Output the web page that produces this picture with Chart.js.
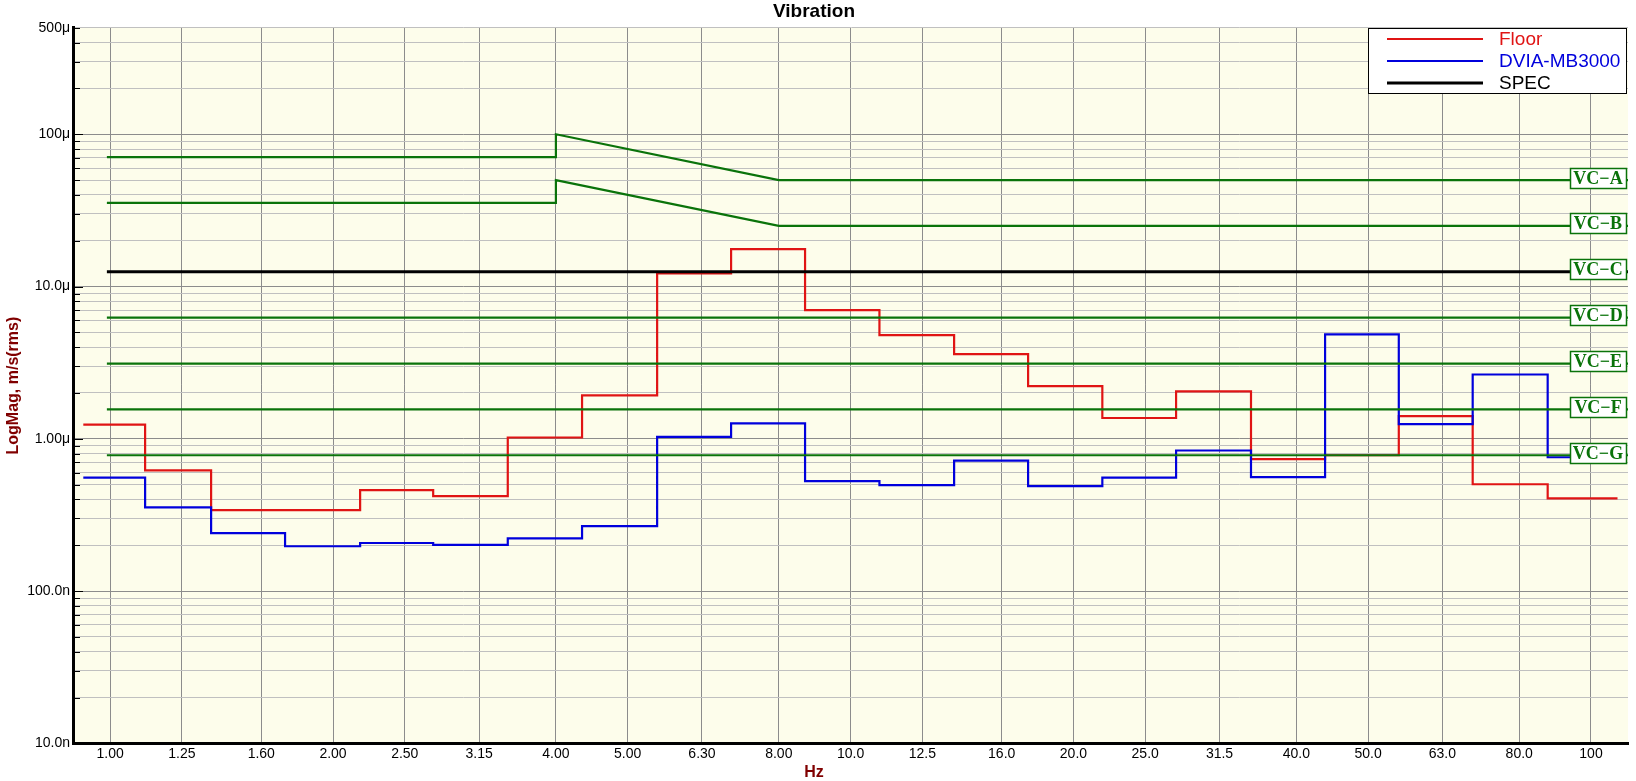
<!DOCTYPE html>
<html>
<head>
<meta charset="utf-8">
<title>Vibration</title>
<script src="https://cdn.jsdelivr.net/npm/chart.js@4.4.1/dist/chart.umd.min.js"></script>
<style>
    body { margin: 0; background: #fff; }
</style>
</head>
<body>
<canvas id="myChart" width="1636" height="781"></canvas>
<script>
// 1/3 octave bands (Hz) and the labels under the axis
const bandHz = [1, 1.25, 1.6, 2, 2.5, 3.15, 4, 5, 6.3, 8, 10, 12.5, 16, 20, 25, 31.5, 40, 50, 63, 80, 100];
const bandLabels = ['1.00', '1.25', '1.60', '2.00', '2.50', '3.15', '4.00', '5.00', '6.30', '8.00', '10.0',
    '12.5', '16.0', '20.0', '25.0', '31.5', '40.0', '50.0', '63.0', '80.0', '100'];

const stepEdgesHz = [0.920, 1.115, 1.369, 1.723, 2.176, 2.731, 3.444, 4.339, 5.480, 6.897, 8.681,
    10.94, 13.80, 17.37, 21.88, 27.52, 34.74, 43.74, 55.01, 69.22, 87.40, 108.6];

// measured velocity per band, um/s rms
const floorData = [1.24, 0.62, 0.34, 0.34, 0.46, 0.42, 1.02, 1.93, 12.2, 17.6, 7.0,
    4.80, 3.60, 2.22, 1.37, 2.05, 0.735, 0.78, 1.41, 0.503, 0.407];
const dviaData = [0.557, 0.355, 0.240, 0.197, 0.207, 0.201, 0.222, 0.267, 1.03, 1.265, 0.528,
    0.496, 0.720, 0.489, 0.557, 0.838, 0.56, 4.85, 1.247, 2.645, 0.757];

// VC criteria, um/s
const vcNames = ['VC\u2212A', 'VC\u2212B', 'VC\u2212C', 'VC\u2212D', 'VC\u2212E', 'VC\u2212F', 'VC\u2212G'];
const vcLevels = [50, 25, 12.5, 6.25, 3.12, 1.56, 0.78];
const specLevel = 12.5;
// VC-A / VC-B shape below 8 Hz
const vcCurveHz = [0.99, 4, 4, 8, 112.2];
const vcA = [70.7, 70.7, 100, 50, 50];
const vcB = [35.4, 35.4, 50, 25, 25];
const vcStartHz = 0.99;
const vcEndHz = 112.2;

// y axis labels
const yLabelValues = [1e-8, 1e-7, 1e-6, 1e-5, 1e-4, 5e-4];
const yLabelText = ['10.0n', '100.0n', '1.00\u03bc', '10.0\u03bc', '100\u03bc', '500\u03bc'];

const RED = '#e01414';
const BLUE = '#0000dc';
const GREEN = '#0a730a';
const DARKRED = '#800000';

Chart.defaults.font.family = "'Liberation Sans', Arial, sans-serif";
Chart.defaults.color = '#000';

function isDecade(v) {
    var l = Math.log10(v);
    return Math.abs(l - Math.round(l)) < 1e-6;
}

function stepPoints(values) {
    var pts = values.map(function (v, i) {
        return { x: stepEdgesHz[i], y: v * 1e-6 };
    });
    pts.push({ x: stepEdgesHz[values.length], y: values[values.length - 1] * 1e-6 });
    return pts;
}

function curvePoints(values) {
    return values.map(function (v, i) {
        return { x: vcCurveHz[i], y: v * 1e-6 };
    });
}

function flatPoints(level) {
    return [{ x: vcStartHz, y: level * 1e-6 }, { x: vcEndHz, y: level * 1e-6 }];
}

var datasets = [
    { label: 'Floor', data: stepPoints(floorData), borderColor: RED, borderWidth: 2.2, stepped: true, order: 3, inLegend: true },
    { label: 'DVIA-MB3000', data: stepPoints(dviaData), borderColor: BLUE, borderWidth: 2.2, stepped: true, order: 2, inLegend: true },
    { label: 'SPEC', data: flatPoints(specLevel), borderColor: '#000', borderWidth: 3, order: 0, inLegend: true },
    { label: 'VC-A', data: curvePoints(vcA), borderColor: GREEN, borderWidth: 2.2, order: 1 },
    { label: 'VC-B', data: curvePoints(vcB), borderColor: GREEN, borderWidth: 2.2, order: 1 }
];
// the flat criteria (VC-C is the SPEC line)
[3, 4, 5, 6].forEach(function (i) {
    datasets.push({ label: vcNames[i], data: flatPoints(vcLevels[i]), borderColor: GREEN, borderWidth: 2.2, order: 1 });
});

const plotBackground = {
    id: 'plotBackground',
    beforeDraw(chart) {
        var a = chart.chartArea, ctx = chart.ctx;
        ctx.save();
        ctx.fillStyle = '#fdfdeb';
        ctx.fillRect(a.left, a.top, a.right - a.left, a.bottom - a.top);
        ctx.restore();
    }
};

const yTickMarks = {
    id: 'yTickMarks',
    beforeDatasetsDraw(chart) {
        var y = chart.scales.y, ctx = chart.ctx, left = chart.chartArea.left;
        ctx.save();
        ctx.strokeStyle = '#000';
        ctx.lineWidth = 1;
        y.ticks.forEach(function (t) {
            var py = Math.round(y.getPixelForValue(t.value)) + 0.5;
            var len = isDecade(t.value) ? 10 : 7;
            ctx.beginPath();
            ctx.moveTo(left, py);
            ctx.lineTo(left + len, py);
            ctx.stroke();
        });
        ctx.restore();
    }
};

const vcLabels = {
    id: 'vcLabels',
    afterDatasetsDraw(chart) {
        var y = chart.scales.y, ctx = chart.ctx, a = chart.chartArea;
        ctx.save();
        ctx.font = "bold 18px 'Liberation Serif', 'Times New Roman', serif";
        ctx.textAlign = 'center';
        ctx.textBaseline = 'middle';
        vcNames.forEach(function (name, i) {
            var py = y.getPixelForValue(vcLevels[i] * 1e-6);
            var bw = 56, bh = 20;
            var bx = Math.round(a.right - 58), by = Math.round(py - 12.5);
            ctx.fillStyle = '#fff';
            ctx.fillRect(bx, by, bw, bh);
            ctx.strokeStyle = GREEN;
            ctx.lineWidth = 1.5;
            ctx.strokeRect(bx + 0.5, by + 0.5, bw, bh);
            ctx.fillStyle = GREEN;
            ctx.fillText(name, bx + bw / 2, by + bh / 2 + 1);
        });
        ctx.restore();
    }
};

const boxLegend = {
    id: 'boxLegend',
    afterDraw(chart) {
        var ctx = chart.ctx, a = chart.chartArea;
        var items = chart.data.datasets.filter(function (d) { return d.inLegend; });
        var w = 259, h = 66;
        var left = Math.round(a.right - 1 - w), top = Math.round(a.top);
        ctx.save();
        ctx.fillStyle = '#fff';
        ctx.fillRect(left, top, w, h);
        ctx.strokeStyle = '#000';
        ctx.lineWidth = 1;
        ctx.strokeRect(left + 0.5, top + 0.5, w - 1, h - 1);
        ctx.font = "19px 'Liberation Sans', Arial, sans-serif";
        ctx.textBaseline = 'middle';
        items.forEach(function (d, i) {
            var ly = top + 11 + i * 22;
            ctx.strokeStyle = d.borderColor;
            ctx.lineWidth = d.borderWidth;
            ctx.beginPath();
            ctx.moveTo(left + 19, ly);
            ctx.lineTo(left + 115, ly);
            ctx.stroke();
            ctx.fillStyle = d.borderColor;
            ctx.fillText(d.label, left + 131, ly + 1);
        });
        ctx.restore();
    }
};

var ctx = document.getElementById('myChart').getContext('2d');
var myChart = new Chart(ctx, {
    type: 'line',
    data: { datasets: datasets },
    options: {
        responsive: false,
        animation: false,
        layout: { padding: { left: 0, right: 8, top: 0, bottom: 0 } },
        elements: {
            point: { radius: 0 },
            line: { tension: 0, fill: false }
        },
        plugins: {
            legend: { display: false },
            tooltip: { enabled: false },
            title: {
                display: true,
                text: 'Vibration',
                color: '#000',
                font: { size: 19, weight: 'bold' },
                padding: { top: 0, bottom: 5 }
            },
            subtitle: {
                display: true,
                position: 'bottom',
                text: 'Hz',
                color: DARKRED,
                font: { size: 16, weight: 'bold', lineHeight: 1.1 },
                padding: 0
            }
        },
        scales: {
            x: {
                type: 'logarithmic',
                min: 0.891,
                max: 112.2,
                afterBuildTicks: function (scale) {
                    scale.ticks = bandHz.map(function (v) { return { value: v }; });
                },
                afterFit: function (scale) { scale.height = 20; },
                ticks: {
                    autoSkip: false,
                    maxRotation: 0,
                    minRotation: 0,
                    padding: 2,
                    color: '#000',
                    font: { size: 14 },
                    callback: function (value, index) { return bandLabels[index]; }
                },
                grid: { color: '#8c8c8c', lineWidth: 1, drawTicks: false },
                border: { color: '#000', width: 3 }
            },
            y: {
                type: 'logarithmic',
                min: 1e-8,
                max: 5e-4,
                afterBuildTicks: function (scale) {
                    var ticks = [];
                    for (var e = -8; e <= -4; e++) {
                        for (var m = 1; m <= 9; m++) {
                            var v = m * Math.pow(10, e);
                            if (v <= 5.0001e-4) ticks.push({ value: v });
                        }
                    }
                    scale.ticks = ticks;
                },
                afterFit: function (scale) { scale.width = 73; },
                ticks: {
                    autoSkip: false,
                    padding: 3,
                    color: '#000',
                    font: { size: 14 },
                    callback: function (value) {
                        for (var j = 0; j < yLabelValues.length; j++) {
                            if (Math.abs(value / yLabelValues[j] - 1) < 1e-6) return yLabelText[j];
                        }
                        return '';
                    }
                },
                grid: {
                    drawTicks: false,
                    color: function (c) {
                        return c.tick && isDecade(c.tick.value) ? '#8c8c8c' : '#c0c0c0';
                    }
                },
                border: { color: '#000', width: 3 },
                title: {
                    display: true,
                    text: 'LogMag, m/s(rms)',
                    color: DARKRED,
                    font: { size: 16, weight: 'bold' },
                    padding: { top: 4, bottom: 0 }
                }
            }
        }
    },
    plugins: [plotBackground, yTickMarks, vcLabels, boxLegend]
});
</script>
</body>
</html>
